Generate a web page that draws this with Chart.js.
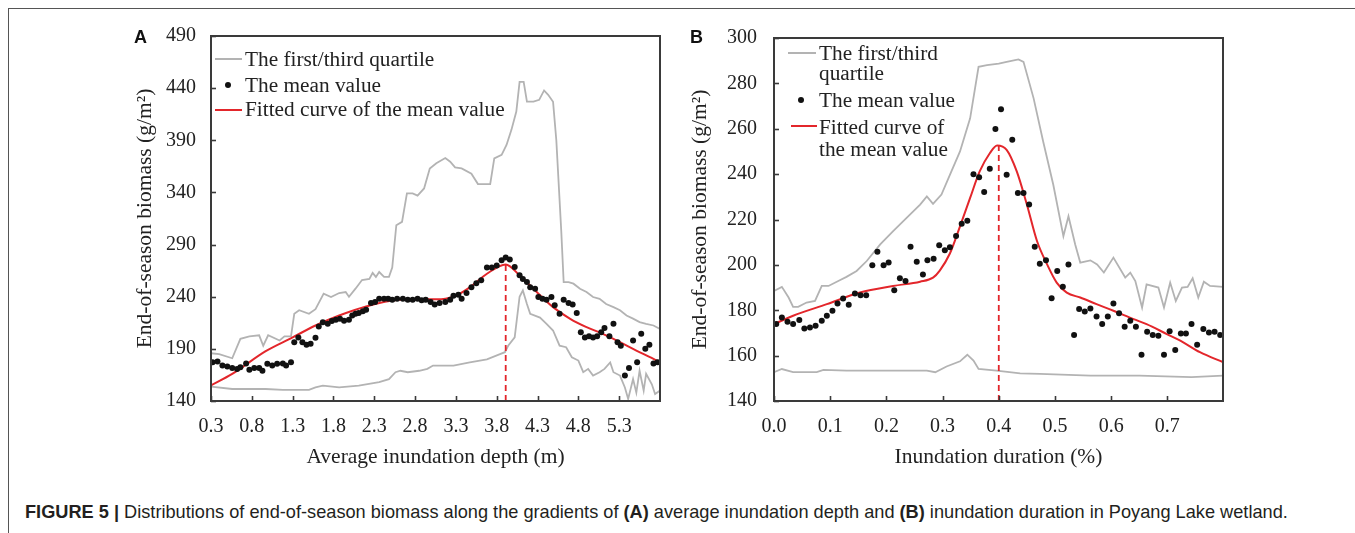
<!DOCTYPE html>
<html><head><meta charset="utf-8">
<script src="https://cdn.jsdelivr.net/npm/chart.js@4.4.0/dist/chart.umd.min.js"></script>
<style>
html,body{margin:0;padding:0;background:#fff;}
body{width:1355px;height:533px;position:relative;overflow:hidden;font-family:"Liberation Serif","Times New Roman",serif;color:#222;}
.frameTop{position:absolute;left:8px;top:8px;width:1347px;height:0;border-top:1.5px solid #555;}
.frameLeft{position:absolute;left:8px;top:8px;width:0;height:525px;border-left:1.5px solid #555;}
canvas{position:absolute;}
.t{position:absolute;white-space:nowrap;font-size:21.3px;line-height:24px;color:#222;}
.panel{position:absolute;font-family:"Liberation Sans",Arial,sans-serif;font-weight:bold;font-size:18px;line-height:18px;color:#111;}
.ln{position:absolute;height:2px;}
.dot{position:absolute;width:6px;height:6px;border-radius:50%;background:#111;}
.cap{position:absolute;left:25px;top:502px;font-family:"Liberation Sans",Arial,sans-serif;font-size:18.2px;white-space:nowrap;color:#231f20;}
</style></head>
<body>
<div class="frameTop"></div><div class="frameLeft"></div>
<canvas id="cA" width="548" height="461" style="left:132px;top:9px;width:548px;height:461px"></canvas>
<canvas id="cB" width="556" height="461" style="left:687px;top:9px;width:556px;height:461px"></canvas>

<div class="panel" style="left:134px;top:28px">A</div>
<div class="panel" style="left:690px;top:28px">B</div>

<!-- legend A -->
<div class="ln" style="left:215px;top:58px;width:27px;background:#b3b3b3"></div>
<div class="t" style="left:245px;top:47px">The first/third quartile</div>
<div class="dot" style="left:225px;top:82px"></div>
<div class="t" style="left:245px;top:73px">The mean value</div>
<div class="ln" style="left:215px;top:109px;width:27px;background:#e3262b"></div>
<div class="t" style="left:245px;top:97px">Fitted curve of the mean value</div>

<!-- legend B -->
<div class="ln" style="left:788px;top:52px;width:28px;background:#b3b3b3"></div>
<div class="t" style="left:819px;top:41px">The first/third</div>
<div class="t" style="left:819px;top:61px">quartile</div>
<div class="dot" style="left:798px;top:97px"></div>
<div class="t" style="left:819px;top:88px">The mean value</div>
<div class="ln" style="left:791px;top:125px;width:26px;background:#e3262b"></div>
<div class="t" style="left:819px;top:115px">Fitted curve of</div>
<div class="t" style="left:819px;top:137px">the mean value</div>

<div class="cap"><b>FIGURE 5 |</b> Distributions of end-of-season biomass along the gradients of <b>(A)</b> average inundation depth and <b>(B)</b> inundation duration in Poyang Lake wetland.</div>

<script>
// ---------- Panel A: average inundation depth ----------
const xTickLabelsA = ['0.3','0.8','1.3','1.8','2.3','2.8','3.3','3.8','4.3','4.8','5.3'];
const yTickLabelsA = ['140','190','240','290','340','390','440','490'];

const depthMeanA = [0.32,0.38,0.44,0.50,0.56,0.62,0.66,0.73,0.77,0.83,
  0.89,0.93,0.99,1.05,1.11,1.18,1.22,1.28,1.32,1.37,
  1.42,1.47,1.52,1.58,1.62,1.67,1.73,1.78,1.83,1.88,
  1.93,1.99,2.03,2.07,2.11,2.16,2.20,2.26,2.31,2.36,
  2.42,2.47,2.52,2.58,2.65,2.71,2.77,2.83,2.88,2.93,
  2.99,3.04,3.10,3.17,3.23,3.27,3.33,3.37,3.43,3.49,
  3.55,3.61,3.68,3.74,3.80,3.86,3.91,3.96,4.02,4.08,
  4.12,4.17,4.21,4.27,4.31,4.36,4.41,4.47,4.51,4.57,
  4.62,4.68,4.73,4.78,4.83,4.88,4.93,4.98,5.03,5.08,
  5.12,5.18,5.23,5.28,5.32,5.37,5.42,5.47,5.52,5.57,
  5.62,5.67,5.72,5.77];
const meanA = [177.2,177.8,174,173,171.7,170.8,172.4,176,170,171.7,
  171.7,169,175.6,174,175.6,176,174,177.2,196.4,201,
  196.4,194,194.8,200.6,211.5,215.6,214,216.6,218,218.8,
  217,218,222,223.6,224.3,226,227.5,234,234.9,238,
  238,238,237,238,238,237,237,238,236.5,237,
  234.9,232.6,234,234.9,237,241,242,238,243.5,249,
  253,255.7,268,268,270,275,277.5,275.6,268.5,260.5,
  257,254,249,247.7,239.7,238,237,239.7,231.7,223.6,
  237,234,232.6,224.3,206,201,202,201,202,206,
  210,202,214,196.4,193,164.4,171.7,198,177.2,204.4,
  190,194,176,177.2];

const depthQ3A = [0.3,0.40,0.56,0.66,0.77,0.89,0.94,1.0,1.14,1.2,1.28,1.32,1.38,1.5,1.58,1.68,1.77,1.87,1.95,1.99,
  2.07,2.15,2.24,2.28,2.32,2.36,2.42,2.48,2.52,2.57,2.64,2.7,2.77,2.83,2.91,2.98,3.06,3.17,3.23,3.29,
  3.37,3.49,3.57,3.72,3.77,3.86,3.92,3.98,4.04,4.08,4.13,4.17,4.25,4.32,4.38,4.43,4.49,4.53,4.59,4.62,
  4.68,4.74,4.82,4.9,4.98,5.06,5.14,5.23,5.31,5.39,5.47,5.55,5.63,5.72,5.8];
const q3A = [185.8,185,181,199.6,202,203,193,203,198,202,202,223.6,227,223.6,228,243,239.7,243.5,244.5,240,
  247.7,256,257,262.8,259,263.7,259,259,268,308.6,311.8,339,339,337,343.8,363,368,373,369.5,364,
  363,358,348,348,372.7,376,385.5,400,417.6,446,446,427,427,428.8,437.8,433.6,427,390,303.8,254,
  254,252.5,247.7,244.5,239.7,238,233,230,227,222,219,215.6,214,212.4,209];

const depthQ1A = [0.3,0.56,0.97,1.18,1.5,1.58,1.67,1.87,2.11,2.36,2.48,2.56,2.62,2.71,2.85,2.95,3.02,3.27,3.47,3.68,
  3.84,3.9,3.94,4.02,4.08,4.12,4.17,4.21,4.33,4.41,4.49,4.57,4.65,4.72,4.8,4.86,4.92,4.98,5.06,5.12,
  5.19,5.23,5.31,5.37,5.41,5.47,5.51,5.55,5.6,5.63,5.7,5.74,5.8];
const q1A = [153.8,151.5,151.5,150.6,150.6,153,154.7,153,154.7,158,161,167.6,169,167.6,169,170.8,174,174,177,180,
  185,186.8,193,201,240,246,233,223.6,220,214,207.6,193,191.6,182,178.8,167.6,170.8,164.4,167.6,170.8,
  177,167.6,164.4,153,142,161,148,169,150,166,156,146.7,150];

const depthFitA = [0.3,0.56,0.97,1.3,1.58,1.87,2.2,2.6,2.86,3.06,3.27,3.47,3.68,3.91,4.08,4.29,4.49,4.7,4.9,5.1,5.31,5.51,5.72,5.8];
const fitA = [155,166,187.8,201,212.4,222,230.7,237,237.5,237.5,240,249,262,271,260.5,244.5,230,218.8,210.8,204.4,196.4,188.4,180.4,177];

const peakA = [3.91, 271];

// ---------- Panel B: inundation duration ----------
const xTickLabelsB = ['0.0','0.1','0.2','0.3','0.4','0.5','0.6','0.7'];
const yTickLabelsB = ['140','160','180','200','220','240','260','280','300'];

const durMeanB = [0.004,0.014,0.024,0.034,0.045,0.054,0.064,0.074,0.085,0.094,
  0.104,0.113,0.123,0.133,0.144,0.154,0.164,0.175,0.184,0.195,
  0.204,0.214,0.224,0.234,0.243,0.254,0.265,0.273,0.284,0.294,
  0.304,0.313,0.324,0.334,0.344,0.355,0.365,0.374,0.384,0.394,
  0.404,0.414,0.424,0.434,0.444,0.454,0.464,0.473,0.484,0.494,
  0.504,0.514,0.524,0.534,0.543,0.553,0.563,0.574,0.584,0.594,
  0.604,0.614,0.624,0.634,0.644,0.654,0.664,0.674,0.684,0.694,
  0.704,0.714,0.724,0.733,0.743,0.753,0.764,0.774,0.784,0.794];
const meanB = [173.9,176.8,174.9,173.9,175.7,172,172.4,173.2,175.4,177.6,
  179.8,183,185.2,182.4,187.4,186.6,186.6,199.8,205.8,199.8,
  201,188.8,194.1,192.9,208,201.4,195.8,202,202.7,208.7,
  206.5,207.8,212.7,218.1,219.5,240,238.6,232.1,242.4,259.9,
  268.6,239.7,255.1,231.7,231.7,226.6,208,200.5,202,185.3,
  197.3,190.4,200.2,169.1,180.5,179.5,180.8,177.3,173.9,177.3,
  183,178.7,172.7,175.4,172.7,160.4,170.5,169.1,168.8,160.4,
  170.7,162.5,169.8,169.8,173.9,164.8,171.7,170.2,170.5,169.1];

const durQ3B = [0.0,0.014,0.026,0.034,0.043,0.058,0.073,0.085,0.097,0.117,0.129,0.147,0.165,0.189,0.212,0.236,0.26,0.272,0.283,0.298,
  0.313,0.331,0.349,0.364,0.379,0.4,0.414,0.435,0.444,0.462,0.479,0.497,0.515,0.524,0.536,0.545,0.563,0.575,0.587,0.604,
  0.625,0.634,0.643,0.655,0.663,0.684,0.694,0.705,0.715,0.726,0.736,0.745,0.755,0.765,0.776,0.8];
const q3B = [188.5,190.3,185.6,181.5,181.5,183.4,184.1,190.7,190.7,193.2,194.7,197.3,201.7,209,214.9,220.7,226.6,230.2,226.9,231,
  239.7,250,264.6,287.3,288,288.7,289.5,290.6,289.5,273.4,254.4,235.3,212.7,221.4,209,201,202,200.2,196.6,203.2,
  194.4,196.6,192.9,181.2,191.4,190,181.2,192.2,184.1,190,190.3,194.1,185.6,192.6,190.7,190.3];

const durQ1B = [0.0,0.014,0.034,0.076,0.088,0.129,0.212,0.272,0.287,0.307,0.331,0.344,0.355,0.364,0.396,0.438,0.473,0.563,0.65,0.743,0.8];
const q1B = [152.7,154.1,152.7,152.7,153.7,153.4,153.4,153.4,152.7,155.2,157.5,160.4,157.8,154.1,153.4,152.2,152,151.2,151.2,150.5,151.2];

const durFitB = [0.0,0.034,0.094,0.153,0.212,0.26,0.283,0.295,0.313,0.331,0.349,0.366,0.384,0.397,0.414,0.432,0.45,0.468,0.486,0.503,
  0.521,0.545,0.574,0.604,0.64,0.663,0.699,0.723,0.758,0.8];
const fitB = [173.9,177.6,182.7,187.8,190.7,192.6,194.4,197.5,205,217,229.5,241.2,249.2,252.6,250.7,241.2,226.6,210.5,200.2,192.2,
  187.8,185.6,182.7,179.8,176.1,173.9,169.5,166.6,161.5,157];

const peakB = [0.4, 252.6];

// ---------- helpers ----------
const pts = (xs, ys) => xs.map((x, i) => ({x: x, y: ys[i]}));
const SERIF = '"Liberation Serif","Times New Roman",serif';
const TXT = '#222';

const frameTicks = {
  id: 'frameTicks',
  afterDatasetsDraw(chart) {
    const {ctx, chartArea: {left, right, top, bottom}, scales: {x, y}} = chart;
    ctx.save();
    ctx.strokeStyle = '#3a3a3a';
    ctx.lineWidth = 1.6;
    x.ticks.forEach(t => {
      const px = Math.round(x.getPixelForValue(t.value)) + 0.5;
      ctx.beginPath(); ctx.moveTo(px, bottom); ctx.lineTo(px, bottom - 5); ctx.stroke();
    });
    y.ticks.forEach(t => {
      const py = Math.round(y.getPixelForValue(t.value)) + 0.5;
      ctx.beginPath(); ctx.moveTo(left, py); ctx.lineTo(left + 5, py); ctx.stroke();
    });
    ctx.lineWidth = 2;
    ctx.strokeRect(left, top, right - left, bottom - top);
    ctx.restore();
  }
};

function makeChart(id, cfg) {
  const xVals = cfg.xLabels.map(parseFloat);
  const yVals = cfg.yLabels.map(parseFloat);
  return new Chart(document.getElementById(id), {
    type: 'scatter',
    data: {
      datasets: [
        {data: pts(cfg.q3x, cfg.q3y), showLine: true, borderColor: '#b3b3b3', borderWidth: 1.8, pointRadius: 0, tension: 0, order: 4},
        {data: pts(cfg.q1x, cfg.q1y), showLine: true, borderColor: '#b3b3b3', borderWidth: 1.8, pointRadius: 0, tension: 0, order: 4},
        {data: pts(cfg.fx, cfg.fy), showLine: true, borderColor: '#e3262b', borderWidth: 2, pointRadius: 0, cubicInterpolationMode: 'monotone', order: 2},
        {data: [{x: cfg.peak[0], y: yVals[0]}, {x: cfg.peak[0], y: cfg.peak[1]}], showLine: true, borderColor: '#e3262b', borderWidth: 1.8, borderDash: [6, 4], pointRadius: 0, order: 3},
        {data: pts(cfg.mx, cfg.my), showLine: false, pointRadius: 3, pointBackgroundColor: '#111', pointBorderWidth: 0, order: 1}
      ]
    },
    options: {
      responsive: false, animation: false, devicePixelRatio: 1,
      layout: {padding: {top: 4, right: 20, left: 0, bottom: 0}},
      plugins: {legend: {display: false}, tooltip: {enabled: false}},
      scales: {
        x: {
          type: 'linear', min: xVals[0], max: cfg.xMax,
          grid: {display: false, drawTicks: false}, border: {display: false},
          afterBuildTicks: s => { s.ticks = xVals.map(v => ({value: v})); },
          afterFit: s => { s.height = 69; },
          ticks: {autoSkip: false, maxRotation: 0, padding: 14, color: TXT, font: {family: SERIF, size: 20},
                  callback: (v, i) => cfg.xLabels[i]},
          title: {display: true, text: cfg.xTitle, color: TXT, font: {family: SERIF, size: 21.5}, padding: 0}
        },
        y: {
          type: 'linear', min: yVals[0], max: yVals[yVals.length - 1],
          grid: {display: false, drawTicks: false}, border: {display: false},
          afterBuildTicks: s => { s.ticks = yVals.map(v => ({value: v})); },
          afterFit: s => { s.width = cfg.yWidth; },
          ticks: {autoSkip: false, padding: cfg.yPad, color: TXT, font: {family: SERIF, size: 20},
                  callback: (v, i) => cfg.yLabels[i]},
          title: {display: true, text: 'End-of-season biomass (g/m²)', color: TXT, font: {family: SERIF, size: 21.5}, padding: 0}
        }
      }
    },
    plugins: [frameTicks]
  });
}

makeChart('cA', {
  xLabels: xTickLabelsA, yLabels: yTickLabelsA, xMax: 5.8, yWidth: 79, yPad: 15,
  xTitle: 'Average inundation depth (m)',
  q3x: depthQ3A, q3y: q3A, q1x: depthQ1A, q1y: q1A, fx: depthFitA, fy: fitA, mx: depthMeanA, my: meanA, peak: peakA
});
makeChart('cB', {
  xLabels: xTickLabelsB, yLabels: yTickLabelsB, xMax: 0.799, yWidth: 87, yPad: 17,
  xTitle: 'Inundation duration (%)',
  q3x: durQ3B, q3y: q3B, q1x: durQ1B, q1y: q1B, fx: durFitB, fy: fitB, mx: durMeanB, my: meanB, peak: peakB
});
</script>
</body></html>
